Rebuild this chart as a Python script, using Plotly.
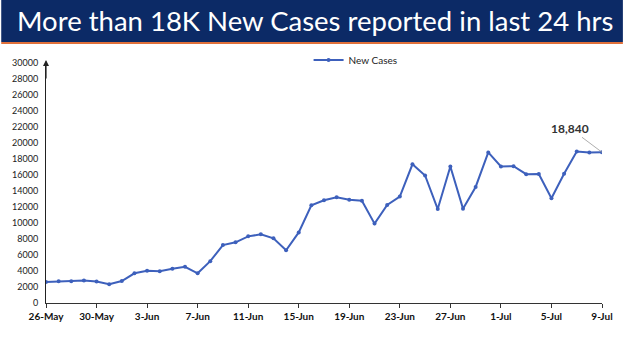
import pandas as pd
import plotly.graph_objects as go

dates = pd.date_range("2022-05-26", "2022-07-09", freq="D")
new_cases = [2628, 2710, 2706, 2828, 2685, 2338, 2745, 3712, 4041, 3962,
             4270, 4518, 3714, 5233, 7240, 7584, 8329, 8582, 8084, 6594,
             8822, 12213, 12847, 13216, 12899, 12781, 9923, 12249, 13313, 17336,
             15940, 11739, 17073, 11793, 14506, 18819, 17070, 17092, 16103, 16135,
             13086, 16159, 18930, 18815, 18840]
series_name = "New Cases"
title_text = "More than 18K New Cases reported in last 24 hrs"
last_label = "18,840"

W, H = 625, 351
ml, mr, mt, mb = 45, 21, 63, 48
ph = H - mt - mb
pw = W - ml - mr

def py(p):
    return (H - mb - p) / ph

def px(p):
    return (p - ml) / pw

line_color = "#3D60BC"

fig = go.Figure()
fig.add_trace(go.Scatter(
    x=dates, y=new_cases, mode="lines+markers", name=series_name,
    line=dict(color=line_color, width=2),
    marker=dict(size=4, color=line_color),
))

fig.add_shape(type="rect", xref="paper", yref="paper", x0=px(0), x1=px(W),
              y0=py(42), y1=py(0), fillcolor="#0C2A66", line_width=0, layer="above")
fig.add_shape(type="rect", xref="paper", yref="paper", x0=px(0), x1=px(W),
              y0=py(44), y1=py(42), fillcolor="#E0703A", line_width=0, layer="above")
fig.add_annotation(xref="paper", yref="paper", x=px(315), y=py(21),
                   text=title_text, showarrow=False, xanchor="center", yanchor="middle",
                   font=dict(family="Lato", size=27.5, color="white"))

# axis arrow
fig.add_annotation(xref="paper", yref="paper", x=0, y=py(60), text="", showarrow=True,
                   ax=0, ay=20, arrowhead=2, arrowsize=1, arrowwidth=1.2, arrowcolor="#222")

fig.add_annotation(x=dates[-1], y=new_cases[-1], text=last_label, showarrow=True,
                   ax=-32, ay=-24, arrowhead=0, arrowwidth=0.8, arrowcolor="#999",
                   font=dict(family="Lato", size=12, color="#333", weight=700))

fig.update_layout(
    width=W, height=H, margin=dict(l=ml, r=mr, t=mt, b=mb),
    paper_bgcolor="white", plot_bgcolor="white",
    font=dict(family="Lato", color="#222"),
    showlegend=True,
    legend=dict(x=px(309), y=py(60), xanchor="left", yanchor="middle", orientation="h",
                font=dict(size=10, color="#222"), bgcolor="rgba(0,0,0,0)"),
    xaxis=dict(range=[dates[0], dates[-1]], tickformat="%-d-%b", dtick=4*86400000,
               tick0=dates[0], ticks="outside", ticklen=4, tickcolor="#333",
               showline=True, linecolor="#333", linewidth=1, showgrid=False, zeroline=False,
               tickfont=dict(size=10, family="Lato", color="#111", weight=700)),
    yaxis=dict(range=[0, 30000], dtick=2000, tickformat="d", showline=True, linecolor="#222",
               linewidth=1, showgrid=False, zeroline=False, ticks="", ticklabelstandoff=5,
               tickfont=dict(size=9, color="#222")),
)
fig.write_html("out.html")
